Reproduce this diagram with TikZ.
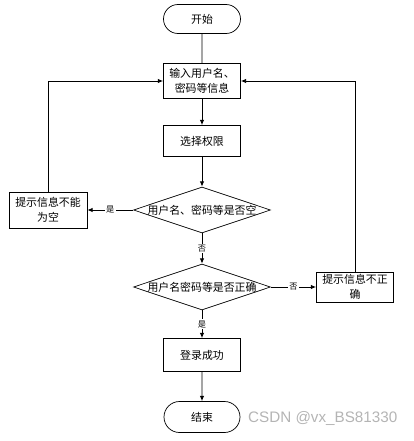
\documentclass[tikz,border=0pt]{standalone}
\usepackage{fontspec}
\setmainfont{Noto Sans CJK SC}
\newfontfamily\markfont{Liberation Sans}
\usetikzlibrary{arrows.meta,shapes.geometric,shapes.misc}
\definecolor{Mark}{HTML}{B4B4B4}
\tikzset{
  term/.style={draw,rounded rectangle,minimum width=2.31cm,minimum height=.87cm,inner sep=0pt,line width=.6pt,font=\fontsize{9.3}{13}\selectfont},
  proc/.style={draw,rectangle,minimum width=2.31cm,minimum height=.96cm,inner sep=1pt,align=center,line width=.6pt,font=\fontsize{9.3}{13}\selectfont},
  dec/.style={draw,diamond,minimum width=4.11cm,minimum height=1.38cm,inner sep=0pt,line width=.6pt,font=\fontsize{9.3}{13}\selectfont},
  flow/.style={-{Latex[length=1.6mm,width=1.4mm]},line width=.8pt},
  tag/.style={fill=white,inner sep=1pt,font=\fontsize{7}{8}\selectfont},
}

\begin{document}
\begin{tikzpicture}[x=.03cm,y=-.03cm]
    \useasboundingbox (0,0) rectangle (413,441);

    \node[term] (start) at (202,19) {开始};
    \node[proc,minimum height=1.05cm] (input) at (202,81) {输入用户名、\\密码等信息};
    \node[proc,minimum height=.93cm] (select) at (202,141) {选择权限};
    \node[dec] (q1) at (202,210) {\makebox[0pt]{用户名、密码等是否空}};
    \node[proc,minimum width=2.34cm,minimum height=1.08cm] (empty) at (48,210) {提示信息不能\\为空};
    \node[dec] (q2) at (202,287) {\makebox[0pt]{用户名密码等是否正确}};
    \node[proc,minimum height=.9cm] (wrong) at (355,287) {提示信息不正\\确};
    \node[proc,minimum height=.99cm] (ok) at (202,355) {登录成功};
    \node[term,minimum width=2.28cm,minimum height=.93cm] (finish) at (202,417) {结束};
    \node[anchor=west,text=Mark,font=\markfont\fontsize{13}{13}\selectfont] (mark) at (244,418) {CSDN @vx\_BS81330};

    \draw[line width=.8pt] (start) -- (input);
    \draw[flow] (input) -- (select);
    \draw[flow] (select) -- (q1);
    \draw[flow] (q1) -- node[tag] {是} (empty);
    \draw[flow] (empty.north) |- (input.west);
    \draw[flow] (q1) -- node[tag] {否} (q2);
    \draw[flow] (q2) -- node[tag] {否} (wrong);
    \draw[flow] (wrong.north) |- (input.east);
    \draw[flow] (q2) -- node[tag] {是} (ok);
    \draw[flow] (ok) -- (finish);
  \end{tikzpicture}
\end{document}
